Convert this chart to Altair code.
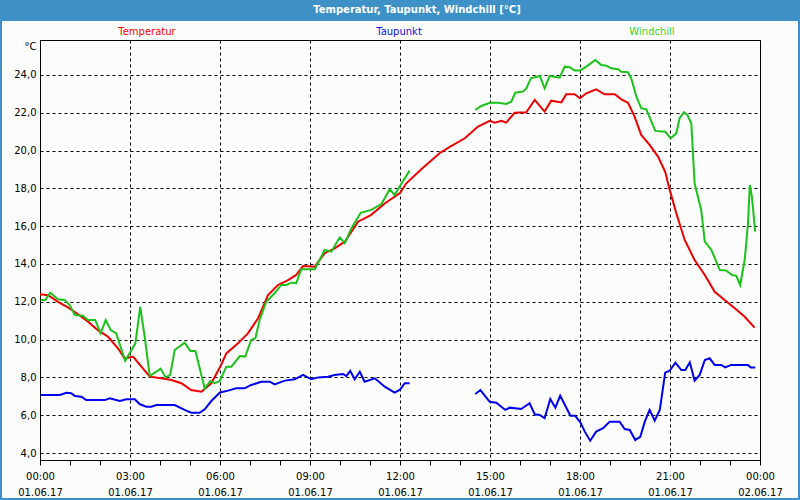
import altair as alt
import pandas as pd

# ---------------- data ----------------
series_names = ["Temperatur", "Taupunkt", "Windchill"]
series_colors = ["#ee0000", "#0000ee", "#1cc21c"]
legend_colors = ["#ff0000", "#1010e0", "#33d633"]

temp_hours = [0, 0.27, 0.6, 0.93, 1.27, 1.6, 1.93, 2.27, 2.6, 2.82, 3.1, 3.38, 3.66, 4.04, 4.38, 4.71,
              5.04, 5.38, 5.71, 6.02, 6.21, 6.6, 6.93, 7.27, 7.6, 7.93, 8.27, 8.54, 8.77, 9.16, 9.49,
              9.82, 10.16, 10.6, 11.04, 11.49, 12.0, 12.21, 12.71, 13.32, 13.66, 14.16, 14.6, 14.99,
              15.16, 15.38, 15.54, 15.82, 16.21, 16.49, 16.82, 17.04, 17.38, 17.54, 17.82, 18.0, 18.21,
              18.54, 18.82, 19.16, 19.38, 19.6, 19.82, 20.04, 20.32, 20.6, 20.84, 20.99, 21.21, 21.49,
              21.82, 22.16, 22.49, 22.82, 23.16, 23.49, 23.82]
temp_values = [12.4, 12.35, 12.0, 11.7, 11.34, 10.95, 10.5, 10.15, 9.54, 9.0, 9.1, 8.57, 8.04, 7.95, 7.86,
               7.69, 7.33, 7.24, 7.69, 8.6, 9.27, 9.8, 10.33, 11.13, 12.36, 12.89, 13.15, 13.42, 13.89,
               13.86, 14.57, 14.83, 15.18, 16.24, 16.6, 17.2, 17.75, 18.27, 19.01, 19.86, 20.2, 20.65,
               21.27, 21.57, 21.48, 21.58, 21.48, 22.0, 22.03, 22.68, 22.06, 22.64, 22.55, 22.98, 22.98,
               22.77, 23.03, 23.24, 22.98, 22.98, 22.71, 22.53, 21.8, 20.83, 20.3, 19.68, 18.88, 17.92,
               16.68, 15.27, 14.21, 13.42, 12.53, 12.1, 11.66, 11.21, 10.63]

# None marks a gap in the recording
dew_hours = [0.02, 0.66, 0.88, 1.04, 1.16, 1.38, 1.54, 2.16, 2.32, 2.54, 2.66, 2.88, 3.16, 3.32, 3.54,
             3.71, 3.88, 4.49, 4.82, 5.04, 5.32, 5.49, 5.71, 6.0, 6.27, 6.54, 6.82, 7.04, 7.38, 7.66,
             7.82, 8.16, 8.49, 8.77, 9.04, 9.27, 9.6, 9.82, 10.1, 10.21, 10.34, 10.49, 10.66, 10.82,
             11.16, 11.49, 11.82, 12.0, 12.16, 12.32, None,
             14.51, 14.68, 14.99, 15.21, 15.51, 15.66, 16.04, 16.32, 16.49, 16.66, 16.82, 17.01, 17.18,
             17.34, 17.68, 17.84, 18.02, 18.16, 18.34, 18.54, 18.77, 18.99, 19.32, 19.49, 19.66, 19.84,
             20.01, 20.16, 20.32, 20.49, 20.66, 20.84, 20.99, 21.18, 21.38, 21.51, 21.66, 21.82, 21.99,
             22.16, 22.32, 22.49, 22.71, 22.84, 23.04, 23.6, 23.69, 23.84]
dew_values = [7.07, 7.07, 7.19, 7.16, 7.02, 6.98, 6.8, 6.8, 6.89, 6.8, 6.75, 6.84, 6.84, 6.59, 6.45,
              6.45, 6.54, 6.54, 6.28, 6.13, 6.13, 6.31, 6.75, 7.2, 7.3, 7.42, 7.42, 7.6, 7.77, 7.77,
              7.63, 7.83, 7.9, 8.13, 7.9, 8.0, 8.04, 8.13, 8.18, 8.07, 8.35, 7.9, 8.3, 7.77,
              7.95, 7.51, 7.19, 7.35, 7.69, 7.69, None,
              7.12, 7.33, 6.71, 6.66, 6.28, 6.4, 6.33, 6.63, 6.05, 6.01, 5.84, 6.86, 6.4,
              7.03, 5.97, 5.97, 5.6, 5.13, 4.65, 5.13, 5.31, 5.66, 5.66, 5.27, 5.22, 4.69,
              4.86, 5.66, 6.28, 5.71, 6.28, 8.25, 8.35, 8.78, 8.39, 8.39, 8.8, 7.83, 8.13,
              8.92, 9.01, 8.66, 8.66, 8.53, 8.66, 8.66, 8.53, 8.53]

wind_hours = [0.02, 0.18, 0.34, 0.6, 0.82, 0.99, 1.16, 1.43, 1.6, 1.84, 2.02, 2.19, 2.36, 2.54, 2.84,
              3.18, 3.34, 3.49, 3.66, 4.02, 4.19, 4.34, 4.49, 4.82, 5.01, 5.18, 5.49, 5.68, 5.82, 5.99,
              6.21, 6.38, 6.66, 6.84, 7.04, 7.18, 7.32, 7.54, 7.82, 8.04, 8.21, 8.38, 8.54, 8.71, 9.16,
              9.49, 9.71, 9.99, 10.16, 10.38, 10.69, 11.04, 11.38, 11.66, 11.82, 12.04, 12.32, None,
              14.51, 14.71, 14.99, 15.27, 15.54, 15.71, 15.84, 16.1, 16.21, 16.36, 16.66, 16.82, 16.99,
              17.32, 17.49, 17.66, 17.82, 18.0, 18.21, 18.51, 18.71, 18.88, 19.04, 19.27, 19.38, 19.6,
              19.71, 19.88, 20.04, 20.21, 20.51, 20.84, 21.02, 21.21, 21.32, 21.47, 21.58, 21.71, 21.82,
              22.04, 22.16, 22.38, 22.66, 22.88, 23.07, 23.21, 23.34, 23.49, 23.6, 23.66, 23.73, 23.84]
wind_values = [12.1, 12.1, 12.48, 12.13, 12.1, 11.83, 11.3, 11.26, 11.04, 11.04, 10.33, 11.04, 10.5,
               10.33, 8.88, 9.8, 11.74, 10.15, 8.07, 8.46, 8.0, 8.13, 9.45, 9.84, 9.4, 9.4, 7.42, 7.81,
               7.69, 7.8, 8.57, 8.57, 9.13, 9.1, 9.98, 10.07, 11.04, 12.0, 12.45, 12.89, 12.89, 13.01,
               12.98, 13.72, 13.72, 14.74, 14.65, 15.41, 15.1, 15.89, 16.71, 16.86, 17.17, 17.95, 17.65,
               18.23, 18.94, None,
               22.15, 22.36, 22.53, 22.53, 22.47, 22.59, 23.06, 23.12, 23.29, 23.82, 23.95, 23.29, 23.95,
               23.86, 24.44, 24.41, 24.23, 24.23, 24.44, 24.79, 24.53, 24.49, 24.35, 24.3, 24.17, 24.14,
               23.82, 22.85, 22.24, 22.18, 21.04, 21.0, 20.65, 20.91, 21.71, 22.03, 21.88, 21.44, 18.27,
               16.86, 15.18, 14.74, 13.68, 13.65, 13.42, 13.37, 12.89, 14.21, 16.15, 18.18, 17.56, 15.71]

x_tick_hours = [0, 3, 6, 9, 12, 15, 18, 21, 24]
x_tick_times = ["00:00", "03:00", "06:00", "09:00", "12:00", "15:00", "18:00", "21:00", "00:00"]
x_tick_dates = ["01.06.17", "01.06.17", "01.06.17", "01.06.17", "01.06.17", "01.06.17",
                "01.06.17", "01.06.17", "02.06.17"]
y_tick_values = [4, 6, 8, 10, 12, 14, 16, 18, 20, 22, 24]

chart_title = "Temperatur, Taupunkt, Windchill [°C]"
unit_label = "°C"

# ---------------- build table ----------------
rows = []
for name, hrs, vals in [("Temperatur", temp_hours, temp_values),
                        ("Taupunkt", dew_hours, dew_values),
                        ("Windchill", wind_hours, wind_values)]:
    seg = 0
    for h, v in zip(hrs, vals):
        if h is None or v is None:
            seg += 1
            continue
        rows.append({"series": name, "segment": f"{name}-{seg}", "hour": h, "value": v})
df = pd.DataFrame(rows)

# ---------------- layout ----------------
W, H = 720, 420
PAD = 40
FONT = "DejaVu Sans"
BG = "#fbfcfb"
BAR = "#3d91c6"

pairs = ",".join(f"['{t}','{d}']" for t, d in zip(x_tick_times, x_tick_dates))
x_label_expr = f"datum.value % 3 == 0 ? [{pairs}][datum.value / 3] : ''"

x_axis = alt.Axis(
    values=list(range(0, 25)), labelExpr=x_label_expr, title=None,
    grid=True, gridColor="black", gridDash=[3, 3], gridWidth=1,
    gridOpacity={"condition": {"test": "datum.value % 3 == 0", "value": 1}, "value": 0},
    tickSize=5, tickColor="black", domainColor="black",
    labelFont=FONT, labelFontSize=10, labelColor="#000000", labelPadding=6,
    labelLineHeight=16, labelBaseline="top", labelFlush=False, labelOverlap=False,
)
y_axis = alt.Axis(
    values=y_tick_values, labelExpr="replace(format(datum.value, '.1f'), '.', ',')",
    title=unit_label, titleAngle=0, titleX=-4, titleY=6, titleAlign="right",
    titleBaseline="middle", titleFont=FONT, titleFontSize=10, titleFontWeight="normal",
    titleColor="#000000",
    grid=True, gridColor="black", gridDash=[3, 3], gridWidth=1,
    ticks=False, domain=False, labelPadding=4,
    labelFont=FONT, labelFontSize=10, labelColor="#000000", labelFlush=False,
)

base = alt.Chart(df)
lines = base.mark_line(strokeWidth=2).encode(
    x=alt.X("hour:Q", scale=alt.Scale(domain=[0, 24], nice=False, zero=False), axis=x_axis),
    y=alt.Y("value:Q", scale=alt.Scale(domain=[3.63, 25.85], nice=False, zero=False), axis=y_axis),
    color=alt.Color("series:N", scale=alt.Scale(domain=series_names, range=series_colors), legend=None),
    detail="segment:N",
    order=alt.Order("hour:Q"),
)

one = pd.DataFrame({"k": [0]})
title_bar = alt.Chart(one).mark_rect(color=BAR).encode(
    x=alt.value(-PAD), x2=alt.value(W + PAD), y=alt.value(-PAD), y2=alt.value(-PAD + 21))
border = alt.Chart(one).mark_rect(fill=None, stroke=BAR, strokeWidth=2).encode(
    x=alt.value(-PAD + 1), x2=alt.value(W + PAD - 1), y=alt.value(-PAD + 1), y2=alt.value(H + PAD - 1))
title_text = alt.Chart(one).mark_text(
    text=chart_title, font=FONT, fontSize=10, fontWeight="bold", color="white",
    align="center", baseline="middle").encode(x=alt.value(377), y=alt.value(-PAD + 10))

legend_x = [107, 359, 612]
legend_layers = [
    alt.Chart(one).mark_text(text=n, font=FONT, fontSize=10, color=c, align="center",
                             baseline="middle").encode(x=alt.value(lx), y=alt.value(-8))
    for n, c, lx in zip(series_names, legend_colors, legend_x)
]

chart = alt.layer(title_bar, border, title_text, *legend_layers, lines).properties(
    width=W, height=H,
    autosize=alt.AutoSizeParams(type="none"),
    padding={"left": PAD, "top": PAD, "right": PAD, "bottom": PAD},
    background=BG,
).configure_view(stroke="black", strokeWidth=1, fill=BG)

chart.save("out.html", embed_options={"renderer": "svg", "actions": False})
